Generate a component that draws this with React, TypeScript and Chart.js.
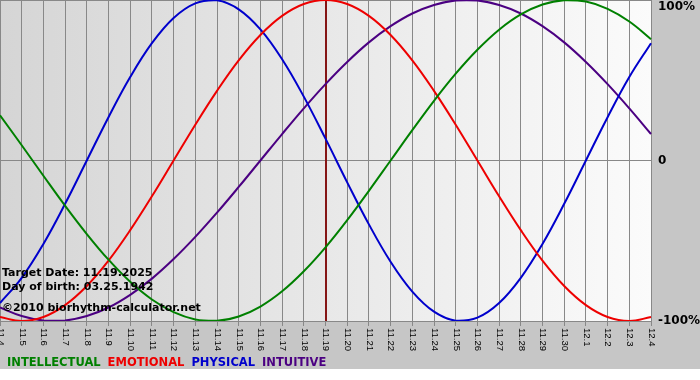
import React, { useEffect, useRef } from "react";
import { Chart, registerables } from "chart.js";

Chart.register(...registerables);

// ---- data ----
const dates = [
  "11.4", "11.5", "11.6", "11.7", "11.8", "11.9", "11.10", "11.11", "11.12", "11.13",
  "11.14", "11.15", "11.16", "11.17", "11.18", "11.19", "11.20", "11.21", "11.22", "11.23",
  "11.24", "11.25", "11.26", "11.27", "11.28", "11.29", "11.30", "12.1", "12.2", "12.3", "12.4",
];

const intellectual = [
  28.2, 9.5, -9.5, -28.2, -45.8, -61.8, -75.6, -86.6, -94.5, -99.0, -99.9, -97.2, -91.0, -81.5, -69.0,
  -54.1, -37.2, -18.9, 0, 18.9, 37.2, 54.1, 69.0, 81.5, 91.0, 97.2, 99.9, 99.0, 94.5, 86.6, 75.6,
];

const emotional = [
  -97.5, -100, -97.5, -90.1, -78.2, -62.4, -43.4, -22.3, 0, 22.3, 43.4, 62.4, 78.2, 90.1, 97.5,
  100, 97.5, 90.1, 78.2, 62.4, 43.4, 22.3, 0, -22.3, -43.4, -62.4, -78.2, -90.1, -97.5, -100, -97.5,
];

const physical = [
  -88.8, -73.1, -52.0, -27.0, 0, 27.0, 52.0, 73.1, 88.8, 97.9, 99.8, 94.2, 81.7, 63.1, 39.8,
  13.6, -13.6, -39.8, -63.1, -81.7, -94.2, -99.8, -97.9, -88.8, -73.1, -52.0, -27.0, 0, 27.0, 52.0, 73.1,
];

const intuitive = [
  -91.6, -96.9, -99.7, -99.7, -96.9, -91.6, -83.7, -73.6, -61.4, -47.6, -32.5, -16.5, 0, 16.5, 32.5,
  47.6, 61.4, 73.6, 83.7, 91.6, 96.9, 99.7, 99.7, 96.9, 91.6, 83.7, 73.6, 61.4, 47.6, 32.5, 16.5,
];

const seriesNames = ["INTELLECTUAL", "EMOTIONAL", "PHYSICAL", "INTUITIVE"];
const yTickValues = [-100, 0, 100];
const yTickLabels = ["-100%", "0", "100%"];
const targetDate = "11.19";
const infoLines = ["Target Date: 11.19.2025", "Day of birth: 03.25.1942", "\u00A92010 biorhythm-calculator.net"];

// ---- styles ----
const seriesColors = ["#008000", "#ee0000", "#0000cc", "#4b0082"];
const gridColor = "#888888";
const FONT = "'DejaVu Sans', Verdana, sans-serif";

const decorPlugin = {
  id: "decor",
  beforeDraw(chart: any) {
    const { ctx, chartArea: a, width, height } = chart;
    ctx.save();
    ctx.fillStyle = "#ffffff";
    ctx.fillRect(0, 0, width, height);
    ctx.fillStyle = "#c6c6c6";
    ctx.fillRect(0, 0, width, 369);
    const g = ctx.createLinearGradient(a.left, 0, a.right, 0);
    g.addColorStop(0, "#d5d5d5");
    g.addColorStop(1, "#fbfbfb");
    ctx.fillStyle = g;
    ctx.fillRect(a.left, a.top, a.right - a.left, a.bottom - a.top);
    ctx.restore();
  },
  beforeDatasetsDraw(chart: any) {
    const { ctx, chartArea: a } = chart;
    const xs = chart.scales.x;
    const x = Math.round(xs.getPixelForTick(dates.indexOf(targetDate)));
    ctx.save();
    ctx.strokeStyle = "#851515";
    ctx.lineWidth = 2;
    ctx.beginPath();
    ctx.moveTo(x, a.top);
    ctx.lineTo(x, a.bottom);
    ctx.stroke();
    ctx.restore();
  },
  afterDraw(chart: any) {
    const { ctx, chartArea: a } = chart;
    const xs = chart.scales.x;
    ctx.save();
    // x tick labels, rotated clockwise
    ctx.fillStyle = "#000000";
    ctx.font = "9.5px 'Liberation Sans', Arial, sans-serif";
    ctx.textAlign = "left";
    ctx.textBaseline = "middle";
    dates.forEach((d, i) => {
      const x = xs.getPixelForTick(i);
      ctx.save();
      ctx.translate(x + 0.5, a.bottom + 7);
      ctx.rotate(Math.PI / 2);
      ctx.fillText(d, 0, 0);
      ctx.restore();
    });
    // info text
    ctx.fillStyle = "#000000";
    ctx.font = `bold 11px ${FONT}`;
    ctx.textBaseline = "alphabetic";
    const infoY = [276, 290, 311];
    infoLines.forEach((t, i) => ctx.fillText(t, 2, infoY[i]));
    // legend
    ctx.font = `bold 11.5px ${FONT}`;
    let lx = 7;
    seriesNames.forEach((n, i) => {
      ctx.fillStyle = seriesColors[i];
      ctx.fillText(n, lx, 366);
      lx += ctx.measureText(n).width + 7;
    });
    ctx.restore();
  },
};

export default function App() {
  const ref = useRef<HTMLCanvasElement | null>(null);

  useEffect(() => {
    if (!ref.current) return;
    const seriesData = [intellectual, emotional, physical, intuitive];
    const chart = new Chart(ref.current, {
      type: "line",
      data: {
        labels: dates,
        datasets: seriesNames.map((name, i) => ({
          label: name,
          data: seriesData[i],
          borderColor: seriesColors[i],
          backgroundColor: seriesColors[i],
          borderWidth: 2,
          pointRadius: 0,
          tension: 0.4,
          fill: false,
        })),
      },
      options: {
        animation: false,
        responsive: false,
        devicePixelRatio: 1,
        layout: { padding: 0 },
        plugins: {
          legend: { display: false },
          tooltip: { enabled: false },
          title: { display: false },
        },
        scales: {
          x: {
            type: "category",
            offset: false,
            afterFit: (s: any) => {
              s.height = 59;
              s.paddingLeft = 0;
              s.paddingRight = 0;
            },
            grid: { color: gridColor, drawTicks: true, tickLength: 5, offset: false },
            border: { color: gridColor },
            ticks: { display: false, autoSkip: false },
          },
          y: {
            position: "right",
            min: -100,
            max: 100,
            afterBuildTicks: (s: any) => {
              s.ticks = yTickValues.map((v) => ({ value: v }));
            },
            afterFit: (s: any) => {
              s.width = 49;
              s.paddingTop = 0;
              s.paddingBottom = 0;
            },
            grid: { color: gridColor, drawTicks: false, tickLength: 0 },
            border: { color: gridColor },
            ticks: {
              padding: 7,
              color: "#000000",
              font: { family: FONT, size: 12, weight: "bold" },
              callback: (v: any) => {
                const idx = yTickValues.indexOf(Number(v));
                const lab = idx >= 0 ? yTickLabels[idx] : "";
                return Number(v) === 100 ? ["", lab] : lab;
              },
            },
          },
        },
      } as any,
      plugins: [decorPlugin],
    });
    return () => chart.destroy();
  }, []);

  return (
    <div style={{ position: "fixed", left: 0, top: 0, width: 700, height: 380 }}>
      <canvas ref={ref} width={700} height={380} style={{ display: "block" }} />
    </div>
  );
}
